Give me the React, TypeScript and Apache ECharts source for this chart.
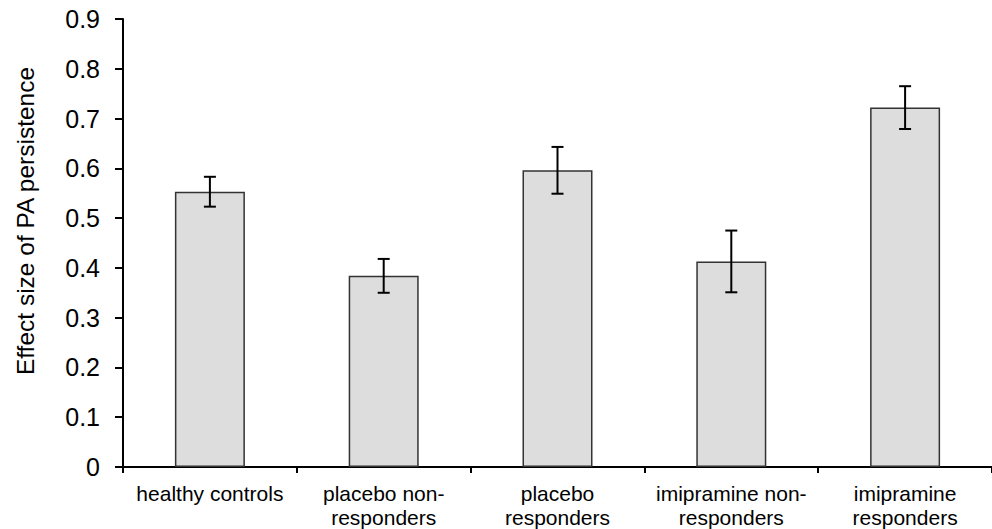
import React, { useEffect, useRef } from "react";
import * as echarts from "echarts";

const categories = [
  "healthy controls",
  "placebo non-\nresponders",
  "placebo\nresponders",
  "imipramine non-\nresponders",
  "imipramine\nresponders",
];
const means = [0.553, 0.384, 0.596, 0.413, 0.722];
const errors = [0.03, 0.034, 0.047, 0.062, 0.043];
const yTicks = { min: 0, max: 0.9, interval: 0.1 };
const yTitle = "Effect size of PA persistence";

export default function App() {
  const ref = useRef<HTMLDivElement>(null);
  useEffect(() => {
    if (!ref.current) return;
    const chart = echarts.init(ref.current, undefined, { renderer: "svg" });
    const font = "Liberation Sans, Arial, Helvetica, sans-serif";
    chart.setOption({
      animation: false,
      backgroundColor: "#ffffff",
      grid: { left: 123, top: 19, width: 878, height: 448, containLabel: false },
      xAxis: {
        type: "category",
        data: categories,
        boundaryGap: true,
        axisLine: { lineStyle: { color: "#000", width: 2 } },
        axisTick: { show: true, length: 6, alignWithLabel: false, lineStyle: { color: "#000", width: 2 } },
        axisLabel: {
          interval: 0,
          color: "#000",
          fontFamily: font,
          fontSize: 21,
          lineHeight: 24,
          margin: 14,
        },
        splitLine: { show: false },
      },
      yAxis: {
        type: "value",
        min: yTicks.min,
        max: yTicks.max,
        interval: yTicks.interval,
        axisLine: { show: true, lineStyle: { color: "#000", width: 2 } },
        axisTick: { show: true, length: 8, lineStyle: { color: "#000", width: 2 } },
        axisLabel: {
          color: "#000",
          fontFamily: font,
          fontSize: 25,
          margin: 23,
          formatter: (v: number) => (v === 0 ? "0" : v.toFixed(1)),
        },
        splitLine: { show: false },
      },
      graphic: [
        {
          type: "text",
          x: 25,
          y: 221,
          rotation: Math.PI / 2,
          style: {
            text: yTitle,
            fontFamily: font,
            fontSize: 24.5,
            fill: "#000",
            align: "center",
            verticalAlign: "middle",
          },
        },
      ],
      series: [
        {
          type: "bar",
          data: means,
          barWidth: 70,
          itemStyle: { color: "#dddddd", borderColor: "#333333", borderWidth: 1.5 },
        },
        {
          type: "custom",
          data: means.map((m, i) => [i, m - errors[i], m + errors[i]]),
          renderItem: (params: any, api: any) => {
            const x = api.value(0);
            const lo = api.coord([x, api.value(1)]);
            const hi = api.coord([x, api.value(2)]);
            const half = 6;
            const style = { stroke: "#000", lineWidth: 2 };
            return {
              type: "group",
              children: [
                { type: "line", shape: { x1: lo[0], y1: lo[1], x2: hi[0], y2: hi[1] }, style },
                { type: "line", shape: { x1: hi[0] - half, y1: hi[1], x2: hi[0] + half, y2: hi[1] }, style },
                { type: "line", shape: { x1: lo[0] - half, y1: lo[1], x2: lo[0] + half, y2: lo[1] }, style },
              ],
            };
          },
          z: 10,
        },
      ],
    });
    return () => chart.dispose();
  }, []);
  return (
    <div
      ref={ref}
      style={{ position: "fixed", left: 0, top: 0, width: 992, height: 529, background: "#fff" }}
    />
  );
}
